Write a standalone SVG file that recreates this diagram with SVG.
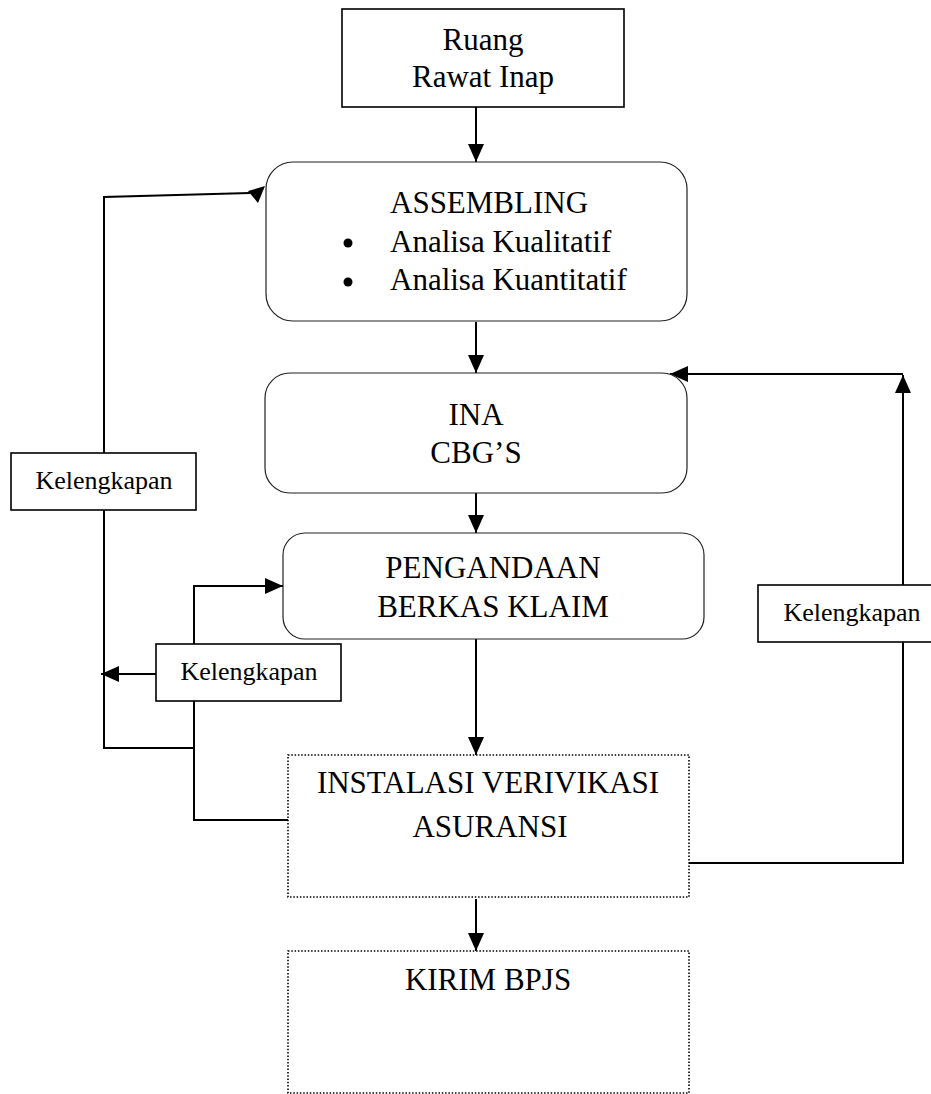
<svg xmlns="http://www.w3.org/2000/svg" width="931" height="1094" viewBox="0 0 931 1094">
<style>
text{font-family:"Liberation Serif","Times New Roman",serif;fill:#000}
.t{font-size:31px}
.k{font-size:26px}
.box{fill:#fff;stroke:#000;stroke-width:1.6}
.rbox{fill:#fff;stroke:#222;stroke-width:1.2}
.dbox{fill:#fff;stroke:#000;stroke-width:1.6;stroke-dasharray:1.5 1.8}
.c{fill:none;stroke:#000;stroke-width:2}
.a{fill:none;stroke:#000;stroke-width:2;marker-end:url(#ah)}
</style>
<defs>
<marker id="ah" viewBox="0 0 18 16" refX="18" refY="8" markerWidth="18" markerHeight="16" markerUnits="userSpaceOnUse" orient="auto">
<path d="M0,0 L18,8 L0,16 z" fill="#000"/>
</marker>
</defs>
<rect width="931" height="1094" fill="#fff"/>
<g id="connectors">
<path class="a" d="M476,107 L476,162"/>
<path class="a" d="M476,322 L476,373"/>
<path class="a" d="M476,493 L476,533"/>
<path class="a" d="M476,639 L476,755"/>
<path class="a" d="M476,899 L476,951"/>
<path class="c" d="M194,748 L104,748 L104,197 L250,193"/>
<polygon points="248,191 265,186 258,203" fill="#000"/>
<path class="a" d="M156,674 L101,674"/>
<path class="a" d="M194,644 L194,586 L283,586"/>
<path class="c" d="M194,701 L194,820 L288,820"/>
<path class="a" d="M689,863 L903,863 L903,375"/>
<path class="a" d="M903,374 L670,374"/>
</g>
<g id="ruang-rawat-inap">
<rect class="box" x="342" y="9" width="282" height="98"/>
<text class="t" x="483" y="50" text-anchor="middle">Ruang</text>
<text class="t" x="483" y="87" text-anchor="middle">Rawat Inap</text>
</g>
<g id="assembling">
<rect class="rbox" x="266" y="162" width="421" height="159" rx="27" ry="27"/>
<text class="t" x="390" y="213">ASSEMBLING</text>
<circle cx="348" cy="243" r="4.5" fill="#000"/>
<text class="t" x="390" y="252">Analisa Kualitatif</text>
<circle cx="348" cy="282" r="4.5" fill="#000"/>
<text class="t" x="390" y="290">Analisa Kuantitatif</text>
</g>
<g id="ina-cbgs">
<rect class="rbox" x="265" y="373" width="422" height="120" rx="25" ry="25"/>
<text class="t" x="476" y="425" text-anchor="middle">INA</text>
<text class="t" x="476" y="463" text-anchor="middle">CBG’S</text>
</g>
<g id="pengandaan">
<rect class="rbox" x="283" y="533" width="421" height="106" rx="22" ry="22"/>
<text class="t" x="493" y="578" text-anchor="middle">PENGANDAAN</text>
<text class="t" x="493" y="617" text-anchor="middle">BERKAS KLAIM</text>
</g>
<g id="instalasi">
<rect class="dbox" x="288" y="755" width="401" height="142"/>
<text class="t" x="488" y="793" text-anchor="middle">INSTALASI VERIVIKASI</text>
<text class="t" x="490" y="837" text-anchor="middle">ASURANSI</text>
</g>
<g id="kirim-bpjs">
<rect class="dbox" x="288" y="951" width="401" height="142"/>
<text class="t" x="488" y="990" text-anchor="middle">KIRIM BPJS</text>
</g>
<g id="kelengkapan-left">
<rect class="box" x="11" y="453" width="185" height="57"/>
<text class="k" x="104" y="489" text-anchor="middle">Kelengkapan</text>
</g>
<g id="kelengkapan-mid">
<rect class="box" x="156" y="644" width="185" height="57"/>
<text class="k" x="249" y="680" text-anchor="middle">Kelengkapan</text>
</g>
<g id="kelengkapan-right">
<rect class="box" x="758" y="585" width="188" height="57"/>
<text class="k" x="852" y="621" text-anchor="middle">Kelengkapan</text>
</g>
</svg>
